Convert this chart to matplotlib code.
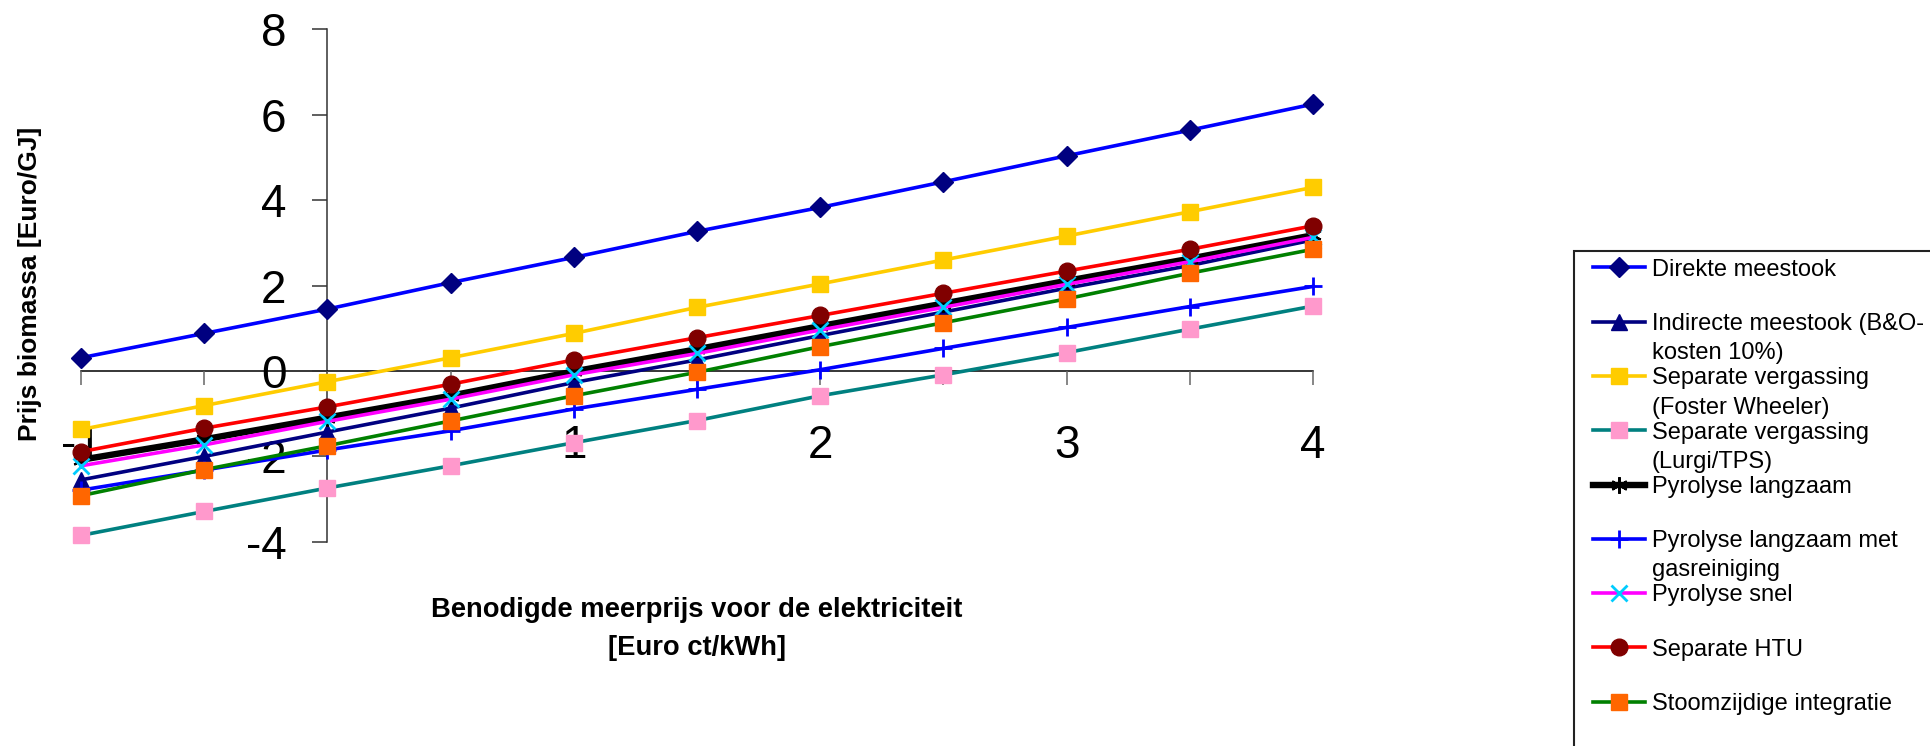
import matplotlib
matplotlib.use("Agg")
import matplotlib.pyplot as plt
from matplotlib.lines import Line2D
from matplotlib.patches import Rectangle

plt.rcParams['font.family'] = ['Liberation Sans', 'DejaVu Sans']

# meerprijs elektriciteit [Euro ct/kWh]
x_vals = [-1, -0.5, 0, 0.5, 1, 1.5, 2, 2.5, 3, 3.5, 4]
x_tick_labels = ['-1', '', '', '', '1', '', '2', '', '3', '', '4']
y_ticks = [-4, -2, 0, 2, 4, 6, 8]

# prijs biomassa [Euro/GJ]
direkte = [0.31, 0.88, 1.45, 2.07, 2.66, 3.27, 3.83, 4.43, 5.04, 5.64, 6.25]
indirecte = [-2.55, -2.00, -1.43, -0.87, -0.27, 0.26, 0.83, 1.38, 1.94, 2.47, 3.07]
verg_fw = [-1.37, -0.81, -0.25, 0.31, 0.88, 1.49, 2.04, 2.60, 3.16, 3.73, 4.30]
verg_lurgi = [-3.85, -3.29, -2.74, -2.22, -1.68, -1.16, -0.58, -0.09, 0.43, 0.98, 1.52]
pyro_langzaam = [-2.08, -1.60, -1.09, -0.58, -0.01, 0.51, 1.05, 1.58, 2.11, 2.63, 3.18]
pyro_gasrein = [-2.79, -2.32, -1.85, -1.40, -0.89, -0.43, 0.03, 0.53, 1.02, 1.51, 1.98]
pyro_snel = [-2.22, -1.73, -1.18, -0.66, -0.09, 0.41, 0.96, 1.49, 2.03, 2.56, 3.13]
htu = [-1.89, -1.34, -0.84, -0.31, 0.26, 0.78, 1.30, 1.82, 2.34, 2.85, 3.40]
stoom = [-2.92, -2.31, -1.75, -1.17, -0.58, -0.03, 0.57, 1.13, 1.69, 2.29, 2.85]

labels = [
    "Direkte meestook",
    "Indirecte meestook (B&O-\nkosten 10%)",
    "Separate vergassing\n(Foster Wheeler)",
    "Separate vergassing\n(Lurgi/TPS)",
    "Pyrolyse langzaam",
    "Pyrolyse langzaam met\ngasreiniging",
    "Pyrolyse snel",
    "Separate HTU",
    "Stoomzijdige integratie",
]
values = [direkte, indirecte, verg_fw, verg_lurgi, pyro_langzaam,
          pyro_gasrein, pyro_snel, htu, stoom]
styles = [
    dict(color='#0000FF', lw=2.6, marker='D', ms=10, mfc='#000080', mec='#000080'),
    dict(color='#000080', lw=2.6, marker='^', ms=12, mfc='#000080', mec='#000080'),
    dict(color='#FFCC00', lw=2.6, marker='s', ms=11.5, mfc='#FFCC00', mec='#FFCC00'),
    dict(color='#008080', lw=2.6, marker='s', ms=11, mfc='#FF99CC', mec='#FF99CC'),
    dict(color='#000000', lw=4.6, marker=(6, 2, 0), ms=12, mfc='#000000', mec='#000000', mew=1.5),
    dict(color='#0000FF', lw=2.6, marker='+', ms=13, mfc='#0000FF', mec='#0000FF', mew=2),
    dict(color='#FF00FF', lw=2.6, marker='x', ms=12, mfc='#00CCFF', mec='#00CCFF', mew=2),
    dict(color='#FF0000', lw=2.6, marker='o', ms=12, mfc='#800000', mec='#800000'),
    dict(color='#008000', lw=2.6, marker='s', ms=11.5, mfc='#FF6600', mec='#FF6600'),
]

W, H = 1931, 746
fig = plt.figure(figsize=(W / 100, H / 100), dpi=100)
ax = fig.add_axes([81 / W, 1 - 541.8 / H, (1313 - 81) / W, (541.8 - 29.4) / H])

for vals, st in zip(values, styles):
    ax.plot(x_vals, vals, clip_on=False, **st)

ax.set_xlim(-1, 4)
ax.set_ylim(-4, 8)
ax.set_xticks(x_vals)
ax.set_xticklabels(x_tick_labels)
ax.set_yticks(y_ticks)
ax.set_yticklabels([str(v) for v in y_ticks])

ax.spines['left'].set_position(('data', 0))
ax.spines['bottom'].set_position(('data', 0))
ax.spines['top'].set_visible(False)
ax.spines['right'].set_visible(False)
for side in ('left', 'bottom'):
    ax.spines[side].set_linewidth(1.1)
    ax.spines[side].set_zorder(0.5)
ax.spines['left'].set_color('#333333')
ax.set_axisbelow(True)

ax.tick_params(axis='y', direction='out', length=10.8, width=1.1, pad=18.7,
               labelsize=33, color='#333333')
ax.tick_params(axis='x', direction='out', length=10, width=1.1, pad=28.5,
               labelsize=33, color='#666666')
ax.patch.set_visible(False)

# axis titles (va='baseline' pins the last line)
fig.text(30 / W, 1 - 284 / H, "Prijs biomassa [Euro/GJ]", rotation=90,
         ha='center', va='center', fontsize=19, fontweight='bold')
fig.text(697 / W, 1 - 655 / H,
         "Benodigde meerprijs voor de elektriciteit\n[Euro ct/kWh]",
         ha='center', va='baseline', fontsize=19.7, fontweight='bold',
         linespacing=1.6)

# legend box, running off the right and bottom edge
fig.add_artist(Rectangle((1574 / W, -0.05), 0.5, 1 - 251 / H + 0.05,
                         transform=fig.transFigure, fill=False,
                         edgecolor='#222222', lw=1.5))
for i, (lab, st) in enumerate(zip(labels, styles)):
    yc = 267.3 + 54.3 * i
    fy = 1 - yc / H
    fig.add_artist(Line2D([1593 / W, 1645 / W], [fy, fy], transform=fig.transFigure,
                          color=st['color'], lw=st['lw']))
    mk = {k: v for k, v in st.items() if k not in ('color', 'lw')}
    fig.add_artist(Line2D([1619 / W], [fy], transform=fig.transFigure,
                          linestyle='none', **mk))
    for j, part in enumerate(lab.split('\n')):
        base = yc + 8.4 + 29.3 * j
        fig.text(1652 / W, 1 - base / H, part, ha='left', va='baseline', fontsize=17)

fig.savefig("out.png", dpi=100)
